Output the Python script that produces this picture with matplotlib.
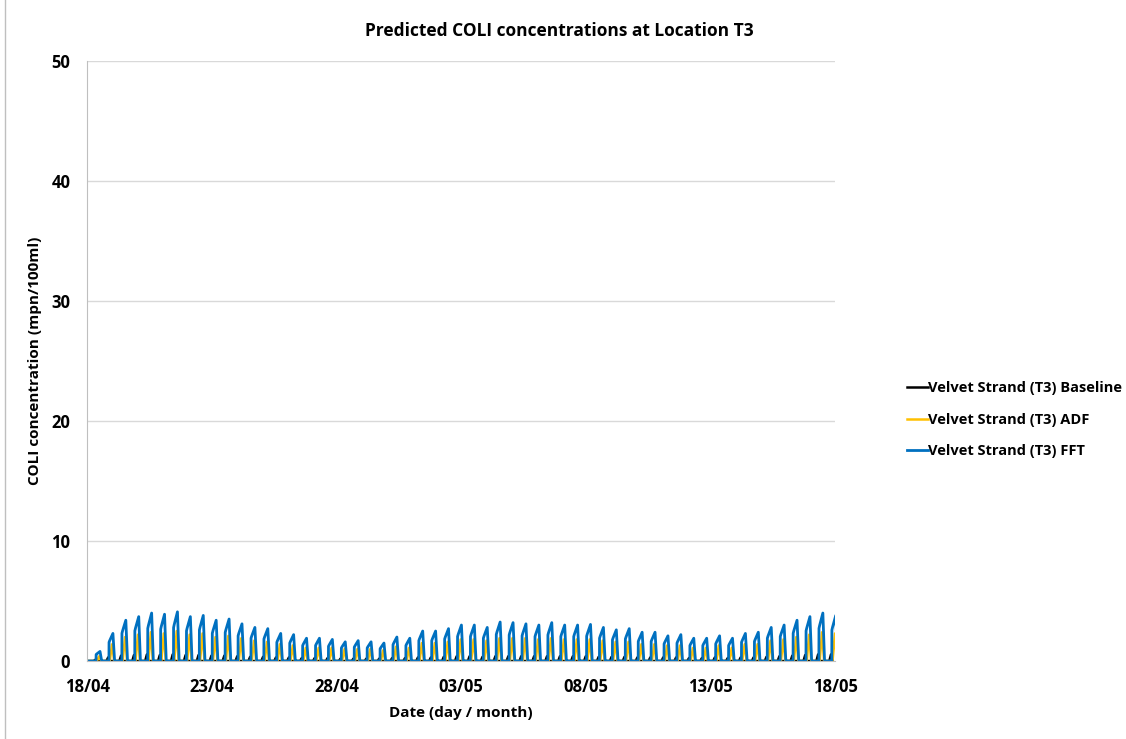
import matplotlib.pyplot as plt
import numpy as np

plt.rcParams['font.family'] = ['Open Sans', 'DejaVu Sans']

# Data: peak concentration of each tidal pulse (mpn/100ml)
fft_peaks = [0.8, 2.3, 3.4, 3.7, 4.0, 3.9, 4.1, 3.7, 3.8, 3.4, 3.5, 3.1, 2.8, 2.7, 2.3, 2.2, 1.9, 1.9, 1.8,
             1.6, 1.7, 1.6, 1.5, 2.0, 1.9, 2.5, 2.5, 2.7, 3.0, 3.0, 2.8, 3.25, 3.2, 3.1, 3.0, 3.2, 3.0, 3.0,
             3.05, 2.8, 2.6, 2.7, 2.4, 2.4, 2.1, 2.2, 1.9, 1.9, 2.1, 1.9, 2.3, 2.4, 2.8, 3.0, 3.4, 3.7, 4.0, 3.8]
adf_peaks = [0.4, 1.4, 2.0, 2.2, 2.4, 2.3, 2.5, 2.2, 2.3, 2.0, 2.1, 1.9, 1.7, 1.6, 1.4, 1.3, 1.1, 1.1, 1.1,
             1.0, 1.0, 1.0, 0.9, 1.2, 1.1, 1.5, 1.5, 1.6, 1.8, 1.8, 1.7, 1.9, 1.9, 1.9, 1.8, 1.9, 1.8, 1.8,
             1.8, 1.7, 1.6, 1.6, 1.4, 1.4, 1.3, 1.3, 1.1, 1.1, 1.3, 1.1, 1.4, 1.4, 1.7, 1.8, 2.0, 2.2, 2.4, 2.3]
base_peaks = [0.1, 0.3, 0.45, 0.5, 0.55, 0.5, 0.55, 0.5, 0.5, 0.45, 0.45, 0.4, 0.35, 0.35, 0.3, 0.3, 0.25, 0.25, 0.25,
              0.2, 0.2, 0.2, 0.2, 0.25, 0.25, 0.3, 0.3, 0.35, 0.4, 0.4, 0.35, 0.4, 0.4, 0.4, 0.4, 0.4, 0.4, 0.4,
              0.4, 0.35, 0.35, 0.35, 0.3, 0.3, 0.3, 0.3, 0.25, 0.25, 0.3, 0.25, 0.3, 0.3, 0.35, 0.4, 0.45, 0.5, 0.55, 0.55]

# pulse times in days from 18/04 (semi-diurnal tide)
first_peak = 0.52
tide_period = 0.5177
peak_times = first_peak + tide_period * np.arange(len(fft_peaks))

tick_days = [0, 5, 10, 15, 20, 25, 30]
tick_labels = ['18/04', '23/04', '28/04', '03/05', '08/05', '13/05', '18/05']

# pulse shapes (offset in days from peak, fraction of peak)
fft_shape_dt = [-0.16, -0.155, -0.13, 0.0, 0.065, 0.075]
fft_shape_f = [0.0, 0.68, 0.74, 1.0, 0.05, 0.0]
adf_shape_dt = [-0.13, -0.03, 0.05]
adf_shape_f = [0.0, 1.0, 0.0]
base_shape_dt = [-0.26, -0.19, -0.12]
base_shape_f = [0.0, 1.0, 0.0]


def series(peaks, dts, fracs):
    xs, ys = [0.0], [0.0]
    for t, p in zip(peak_times, peaks):
        for dt, f in zip(dts, fracs):
            xs.append(t + dt)
            ys.append(p * f)
    return xs, ys


fig = plt.figure(figsize=(11.26, 7.39), dpi=100)
ax = fig.add_axes([0.0773, 0.1055, 0.6643, 0.812])

bx, by = series(base_peaks, base_shape_dt, base_shape_f)
axx, ady = series(adf_peaks, adf_shape_dt, adf_shape_f)
fx, fy = series(fft_peaks, fft_shape_dt, fft_shape_f)
ax.plot(bx, by, color='black', lw=1.8, label='Velvet Strand (T3) Baseline')
ax.plot(axx, ady, color='#FFC000', lw=1.8, label='Velvet Strand (T3) ADF')
ax.plot(fx, fy, color='#0070C0', lw=2.0, label='Velvet Strand (T3) FFT')

ax.set_xlim(0, 30)
ax.set_ylim(0, 50)
ax.set_yticks([0, 10, 20, 30, 40, 50])
ax.set_xticks(tick_days)
ax.set_xticklabels(tick_labels)
ax.tick_params(axis='y', length=0, labelsize=12, pad=12)
ax.tick_params(axis='x', length=0, labelsize=12, pad=12)
for lab in ax.get_xticklabels() + ax.get_yticklabels():
    lab.set_fontweight('bold')
ax.grid(axis='y', color='#D9D9D9', lw=1)
ax.set_axisbelow(True)
for s in ['top', 'right']:
    ax.spines[s].set_visible(False)
ax.spines['left'].set_color('#BFBFBF')
ax.spines['bottom'].set_color('#BFBFBF')

ax.set_xlabel('Date (day / month)', fontsize=11, fontweight='bold')
ax.set_ylabel('COLI concentration (mpn/100ml)', fontsize=11, fontweight='bold')
ax.xaxis.set_label_coords(0.5, -0.087)
ax.yaxis.set_label_coords(-0.0695, 0.5)
ax.xaxis.label.set_va('center')
ax.yaxis.label.set_va('center')
fig.text(0.497, 0.958, 'Predicted COLI concentrations at Location T3', ha='center', va='center',
         fontsize=12.5, fontweight='bold')

leg = ax.legend(loc='center left', bbox_to_anchor=(1.078, 0.4017), frameon=False, handlelength=1.5,
                handletextpad=0.0, labelspacing=1.2, prop={'weight': 'bold', 'size': 10.5})

# outer frame line on the left edge
fig.add_artist(plt.Line2D([0.004, 0.004], [0.0, 1.0], color='#BFBFBF', lw=1))

fig.savefig('out.png', dpi=100)
